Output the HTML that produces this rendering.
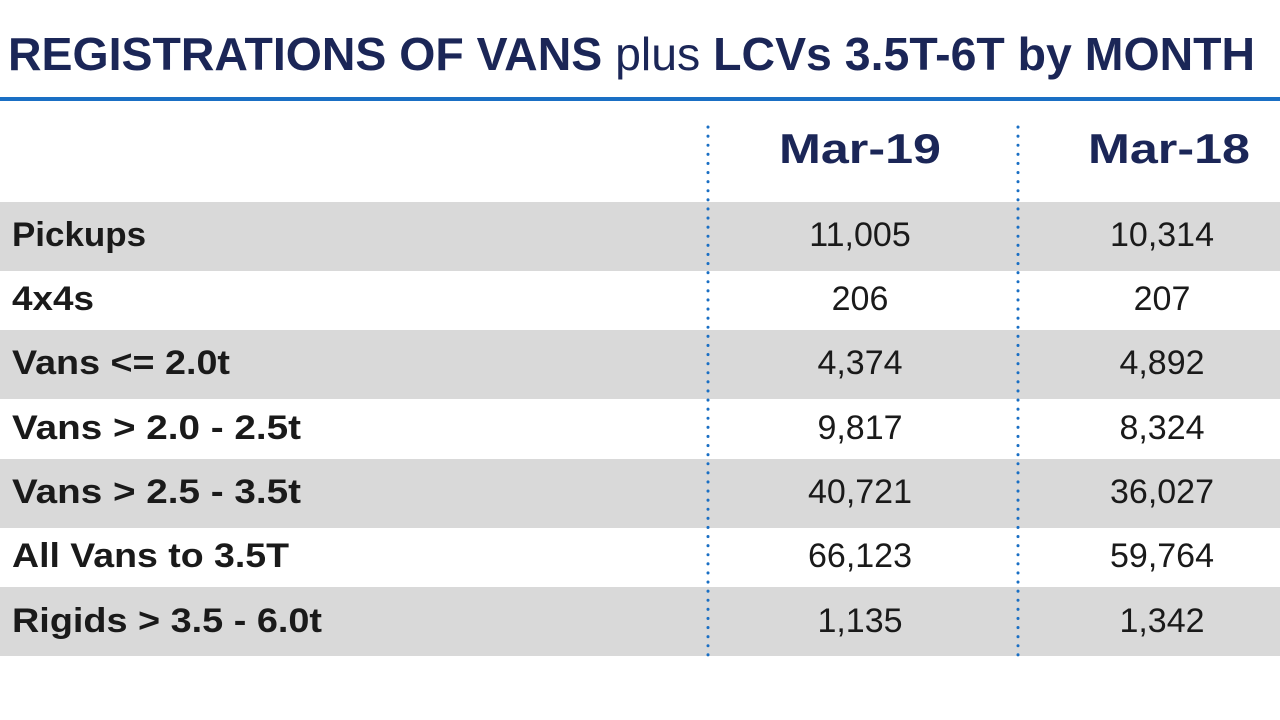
<!DOCTYPE html>
<html><head><meta charset="utf-8"><style>
html,body{margin:0;padding:0;background:#fff;width:1280px;height:720px;overflow:hidden}
svg{display:block}
</style></head><body>
<svg width="1280" height="720" xmlns="http://www.w3.org/2000/svg" font-family="Liberation Sans, sans-serif">
<rect width="1280" height="720" fill="#fff"/>
<text x="8" y="70" font-size="46" fill="#1b2657" textLength="1247" lengthAdjust="spacingAndGlyphs"><tspan font-weight="bold">REGISTRATIONS OF VANS</tspan> <tspan>plus</tspan> <tspan font-weight="bold">LCVs 3.5T-6T by MONTH</tspan></text>
<rect x="0" y="97" width="1280" height="4" fill="#1a6fc4"/>
<g fill="#d9d9d9">
<rect x="0" y="202" width="1280" height="69"/>
<rect x="0" y="330" width="1280" height="69"/>
<rect x="0" y="459" width="1280" height="69"/>
<rect x="0" y="587" width="1280" height="69"/>
</g>
<g stroke="#1a6fc4" stroke-width="3" stroke-dasharray="0.1 9" stroke-linecap="round">
<line x1="708" y1="127" x2="708" y2="656"/>
<line x1="1018" y1="127" x2="1018" y2="656"/>
</g>
<g font-weight="bold" font-size="42" fill="#1b2657" text-anchor="middle">
<text x="860" y="163" textLength="162" lengthAdjust="spacingAndGlyphs">Mar-19</text>
<text x="1169" y="163" textLength="162" lengthAdjust="spacingAndGlyphs">Mar-18</text>
</g>
<g font-weight="bold" font-size="34" fill="#1a1a1a" lengthAdjust="spacingAndGlyphs">
<text x="12" y="246" textLength="134" lengthAdjust="spacingAndGlyphs">Pickups</text>
<text x="12" y="310" textLength="82" lengthAdjust="spacingAndGlyphs">4x4s</text>
<text x="12" y="374" textLength="218" lengthAdjust="spacingAndGlyphs">Vans &lt;= 2.0t</text>
<text x="12" y="439" textLength="289" lengthAdjust="spacingAndGlyphs">Vans &gt; 2.0 - 2.5t</text>
<text x="12" y="503" textLength="289" lengthAdjust="spacingAndGlyphs">Vans &gt; 2.5 - 3.5t</text>
<text x="12" y="567" textLength="277" lengthAdjust="spacingAndGlyphs">All Vans to 3.5T</text>
<text x="12" y="632" textLength="310" lengthAdjust="spacingAndGlyphs">Rigids &gt; 3.5 - 6.0t</text>
</g>
<g font-size="34" fill="#1a1a1a" text-anchor="middle">
<text x="860" y="246">11,005</text><text x="1162" y="246">10,314</text>
<text x="860" y="310">206</text><text x="1162" y="310">207</text>
<text x="860" y="374">4,374</text><text x="1162" y="374">4,892</text>
<text x="860" y="439">9,817</text><text x="1162" y="439">8,324</text>
<text x="860" y="503">40,721</text><text x="1162" y="503">36,027</text>
<text x="860" y="567">66,123</text><text x="1162" y="567">59,764</text>
<text x="860" y="632">1,135</text><text x="1162" y="632">1,342</text>
</g>
</svg>
</body></html>
